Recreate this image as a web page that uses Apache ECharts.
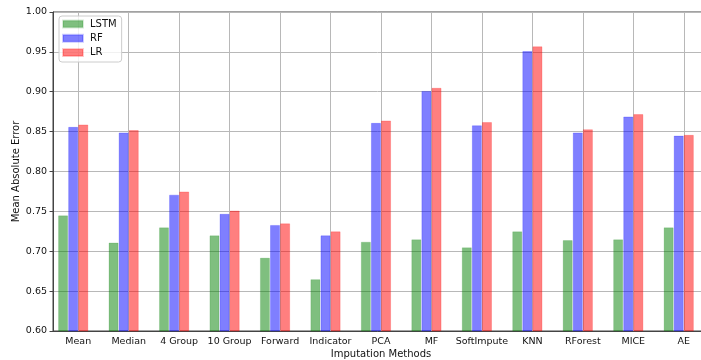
<!DOCTYPE html>
<html>
<head>
<meta charset="utf-8">
<script src="https://cdn.jsdelivr.net/npm/echarts@6/dist/echarts.min.js"></script>
<style>html,body{margin:0;padding:0;background:#fff;}#c{width:701px;height:360px;}</style>
</head>
<body>
<div id="c"></div>
<script>
const categories = ['Mean','Median','4 Group','10 Group','Forward','Indicator','PCA','MF','SoftImpute','KNN','RForest','MICE','AE'];
const lstm = [0.745,0.711,0.730,0.720,0.692,0.665,0.712,0.715,0.705,0.725,0.714,0.715,0.730];
const rf   = [0.856,0.849,0.771,0.747,0.733,0.720,0.861,0.901,0.858,0.951,0.849,0.869,0.845];
const lr   = [0.859,0.852,0.775,0.751,0.735,0.725,0.864,0.905,0.862,0.957,0.853,0.872,0.846];
const yTicks = [0.60,0.65,0.70,0.75,0.80,0.85,0.90,0.95,1.00];

const font = 'DejaVu Sans';
const chart = echarts.init(document.getElementById('c'), null, {renderer:'canvas'});
function bar(name, data, color, border){
  return {name, type:'bar', data, barGap:'0%', barCategoryGap:'20%',
    itemStyle:{color, borderColor:border, borderWidth:1}, emphasis:{disabled:true}};
}
chart.setOption({
  animation:false,
  textStyle:{fontFamily:font},
  grid:{left:53, right:-8, top:12, bottom:29, show:true, borderColor:'#444', borderWidth:1,
    containLabel:false, outerBoundsMode:'none'},
  legend:{
    orient:'vertical', left:59, top:16, data:['LSTM','RF','LR'],
    itemWidth:20, itemHeight:7, itemGap:4.3,
    padding:[3,5,4.4,3],
    backgroundColor:'rgba(255,255,255,0.8)', borderColor:'#cccccc', borderWidth:1, borderRadius:3,
    textStyle:{fontFamily:font, fontSize:10, color:'#111', lineHeight:10, padding:[0,0,0,2]},
    icon:'rect'
  },
  xAxis:{
    type:'category', data:categories,
    name:'Imputation Methods', nameLocation:'middle', nameGap:18, nameMoveOverlap:false,
    nameTextStyle:{fontFamily:font, fontSize:10, color:'#111', verticalAlign:'top'},
    axisLine:{lineStyle:{color:'#444', width:1}},
    axisTick:{alignWithLabel:true, length:3.5, lineStyle:{color:'#444'}},
    axisLabel:{fontFamily:font, fontSize:9.5, color:'#111', margin:6, interval:0},
    splitLine:{show:true, alignWithLabel:true, lineStyle:{color:'#b8b8b8', width:1}}
  },
  yAxis:{
    type:'value', min:0.6, max:1.0, interval:0.05,
    name:'Mean Absolute Error', nameLocation:'middle', nameGap:32, nameRotate:90, nameMoveOverlap:false,
    nameTextStyle:{fontFamily:font, fontSize:10, color:'#111'},
    axisLine:{show:true, lineStyle:{color:'#444', width:1}},
    axisTick:{show:true, length:3.5, lineStyle:{color:'#444'}},
    axisLabel:{fontFamily:font, fontSize:9.5, color:'#111', margin:6,
      formatter:v=>{const t=yTicks.find(x=>Math.abs(x-v)<1e-6);return (t!==undefined?t:v).toFixed(2);}},
    splitLine:{show:true, lineStyle:{color:'#b8b8b8', width:1}}
  },
  series:[
    bar('LSTM', lstm, 'rgba(0,128,0,0.5)', 'rgba(0,128,0,0.15)'),
    bar('RF', rf, 'rgba(0,0,255,0.5)', 'rgba(0,0,255,0.2)'),
    bar('LR', lr, 'rgba(255,0,0,0.5)', 'rgba(255,0,0,0.2)'),
    {name:'_pad', type:'bar', data:categories.map(()=>null), barGap:'0%', barCategoryGap:'20%', silent:true}
  ]
});
</script>
</body>
</html>
